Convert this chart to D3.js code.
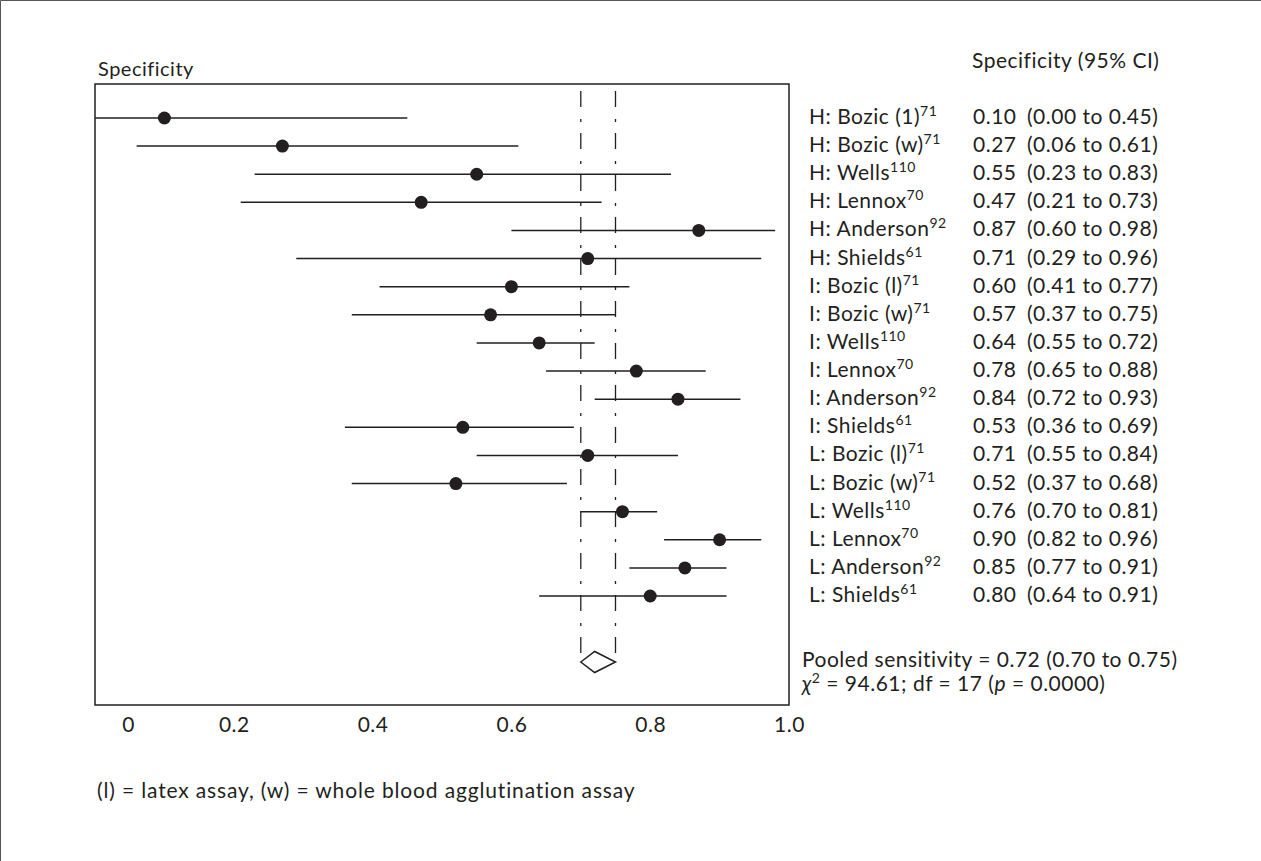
<!DOCTYPE html>
<html>
<head>
<meta charset="utf-8">
<script src="https://cdn.jsdelivr.net/npm/d3@7"></script>
<style>
  html, body { margin: 0; padding: 0; background: #fff; }
  svg text { font-family: Lato, "Open Sans", sans-serif; fill: #231f20; letter-spacing: 0.5px; }
</style>
</head>
<body>
<svg id="chart" width="1261" height="861"></svg>
<script>
// study rows, top to bottom
const studies = [
  "H: Bozic (1)", "H: Bozic (w)", "H: Wells", "H: Lennox", "H: Anderson", "H: Shields",
  "I: Bozic (l)", "I: Bozic (w)", "I: Wells", "I: Lennox", "I: Anderson", "I: Shields",
  "L: Bozic (l)", "L: Bozic (w)", "L: Wells", "L: Lennox", "L: Anderson", "L: Shields",
];
const refs = ["71", "71", "110", "70", "92", "61", "71", "71", "110", "70", "92", "61", "71", "71", "110", "70", "92", "61"];
const estimates = [0.10, 0.27, 0.55, 0.47, 0.87, 0.71, 0.60, 0.57, 0.64, 0.78, 0.84, 0.53, 0.71, 0.52, 0.76, 0.90, 0.85, 0.80];
const lowers = [0.00, 0.06, 0.23, 0.21, 0.60, 0.29, 0.41, 0.37, 0.55, 0.65, 0.72, 0.36, 0.55, 0.37, 0.70, 0.82, 0.77, 0.64];
const uppers = [0.45, 0.61, 0.83, 0.73, 0.98, 0.96, 0.77, 0.75, 0.72, 0.88, 0.93, 0.69, 0.84, 0.68, 0.81, 0.96, 0.91, 0.91];

const pooled = { est: 0.72, lower: 0.70, upper: 0.75 };
const xTicks = [0, 0.2, 0.4, 0.6, 0.8, 1.0];
const xTickLabels = ["0", "0.2", "0.4", "0.6", "0.8", "1.0"];

const rows = studies.map((name, i) => ({
  name,
  ref: refs[i],
  est: estimates[i],
  lo: lowers[i],
  hi: uppers[i],
}));

const fmt = d3.format(".2f");
const svg = d3.select("#chart");
const fontSize = 21;

// page frame (left and top edges)
svg.append("path")
  .attr("d", "M0.5,861V0.5H1261")
  .attr("fill", "none")
  .attr("stroke", "#555")
  .attr("stroke-width", 1);

const box = { left: 95, right: 789, top: 84, bottom: 705 };

const x = d3.scaleLinear().domain([0, 1]).range([box.left, box.right]);
const y = d3.scalePoint().domain(d3.range(rows.length)).range([118, 596]);
const diamondY = 662;

// plot frame
svg.append("rect")
  .attr("x", box.left)
  .attr("y", box.top)
  .attr("width", box.right - box.left)
  .attr("height", box.bottom - box.top)
  .attr("fill", "none")
  .attr("stroke", "#231f20")
  .attr("stroke-width", 1.5);

svg.append("text")
  .attr("x", 98)
  .attr("y", 76)
  .attr("font-size", 20)
  .text("Specificity");

// pooled CI reference lines
svg.selectAll("line.ref")
  .data([pooled.lower, pooled.upper])
  .join("line")
  .attr("class", "ref")
  .attr("x1", (d) => x(d))
  .attr("x2", (d) => x(d))
  .attr("y1", box.top + 7)
  .attr("y2", diamondY)
  .attr("stroke", "#231f20")
  .attr("stroke-width", 1.3)
  .attr("stroke-dasharray", "16,12,3,11");

// confidence intervals
svg.selectAll("line.ci")
  .data(rows)
  .join("line")
  .attr("class", "ci")
  .attr("x1", (d) => x(d.lo))
  .attr("x2", (d) => x(d.hi))
  .attr("y1", (d, i) => y(i))
  .attr("y2", (d, i) => y(i))
  .attr("stroke", "#231f20")
  .attr("stroke-width", 1.5);

svg.selectAll("circle.pt")
  .data(rows)
  .join("circle")
  .attr("class", "pt")
  .attr("cx", (d) => x(d.est))
  .attr("cy", (d, i) => y(i))
  .attr("r", 6.5)
  .attr("fill", "#231f20");

// pooled diamond
const dh = 10.5;
svg.append("path")
  .attr("d", `M${x(pooled.lower)},${diamondY}L${x(pooled.est)},${diamondY - dh}L${x(pooled.upper)},${diamondY}L${x(pooled.est)},${diamondY + dh}Z`)
  .attr("fill", "#fff")
  .attr("stroke", "#231f20")
  .attr("stroke-width", 1.5);

// x axis labels (no tick marks in the original)
const axis = d3.axisBottom(x)
  .tickValues(xTicks)
  .tickFormat((d, i) => xTickLabels[i])
  .tickSize(0)
  .tickPadding(0);

const axisG = svg.append("g")
  .attr("transform", `translate(0,${box.bottom})`)
  .call(axis);
axisG.select(".domain").remove();
axisG.selectAll("text")
  .attr("font-size", fontSize)
  .attr("font-family", null)
  .attr("dy", null)
  .attr("y", 27)
  .attr("fill", "#231f20");
// the "0" label sits a little right of the frame edge
axisG.selectAll(".tick").filter((d) => d === 0).select("text").attr("x", 33);

// right-hand table
const table = svg.append("g");
table.append("text")
  .attr("x", 972)
  .attr("y", 68)
  .attr("font-size", fontSize)
  .text("Specificity (95% CI)");

const labels = table.selectAll("text.lab")
  .data(rows)
  .join("text")
  .attr("class", "lab")
  .attr("x", 809)
  .attr("y", (d, i) => y(i) + 6)
  .attr("font-size", fontSize);
labels.append("tspan").text((d) => d.name);
labels.append("tspan")
  .attr("font-size", 14)
  .attr("dy", -8)
  .text((d) => d.ref);

table.selectAll("text.val")
  .data(rows)
  .join("text")
  .attr("class", "val")
  .attr("x", 973)
  .attr("y", (d, i) => y(i) + 6)
  .attr("font-size", fontSize)
  .text((d) => fmt(d.est));

table.selectAll("text.ci")
  .data(rows)
  .join("text")
  .attr("class", "ci")
  .attr("x", 1027)
  .attr("y", (d, i) => y(i) + 6)
  .attr("font-size", fontSize)
  .text((d) => `(${fmt(d.lo)} to ${fmt(d.hi)})`);

table.append("text")
  .attr("x", 802)
  .attr("y", 667)
  .attr("font-size", fontSize)
  .text(`Pooled sensitivity = ${fmt(pooled.est)} (${fmt(pooled.lower)} to ${fmt(pooled.upper)})`);

const chi = table.append("text")
  .attr("x", 802)
  .attr("y", 691)
  .attr("font-size", fontSize);
chi.append("tspan").attr("font-style", "italic").text("χ");
chi.append("tspan").attr("font-size", 14).attr("dy", -8).text("2");
chi.append("tspan").attr("dy", 8).text(" = 94.61; df = 17 (");
chi.append("tspan").attr("font-style", "italic").text("p");
chi.append("tspan").text(" = 0.0000)");

svg.append("text")
  .attr("x", 97)
  .attr("y", 798)
  .attr("font-size", fontSize)
  .style("letter-spacing", "0.85px")
  .text("(l) = latex assay, (w) = whole blood agglutination assay");
</script>
</body>
</html>
